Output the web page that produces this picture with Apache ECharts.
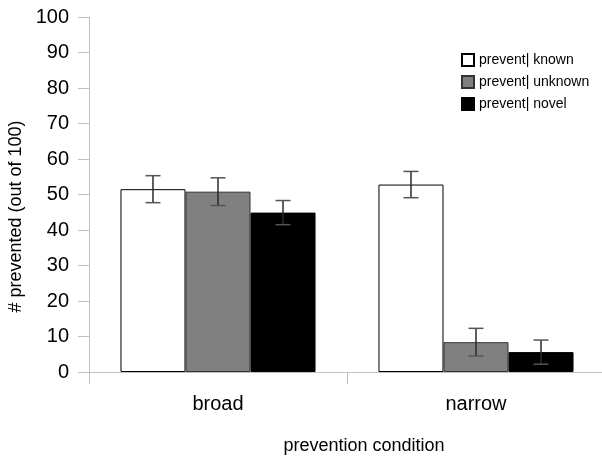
<!DOCTYPE html>
<html>
<head>
<meta charset="utf-8">
<script src="https://cdn.jsdelivr.net/npm/echarts@6/dist/echarts.min.js"></script>
<style>html,body{margin:0;padding:0;background:#fff;}#c{width:602px;height:457px;}</style>
</head>
<body>
<div id="c"></div>
<script>
const categories = ['broad', 'narrow'];
const seriesNames = ['prevent| known', 'prevent| unknown', 'prevent| novel'];
const knownVals = [51.5, 52.8];
const knownErr = [3.8, 3.7];
const unknownVals = [50.8, 8.4];
const unknownErr = [3.9, 3.9];
const novelVals = [44.9, 5.6];
const novelErr = [3.4, 3.4];
const yTicks = {min: 0, max: 100, interval: 10};

const FONT = 'Liberation Sans, Arial, Helvetica, sans-serif';
const BAR_FRAC = 0.252;
const fills = ['#ffffff', '#808080', '#000000'];
const borders = ['#000000', '#333333', '#000000'];
const vals = [knownVals, unknownVals, novelVals];
const errs = [knownErr, unknownErr, novelErr];

const chart = echarts.init(document.getElementById('c'), null, {renderer: 'canvas'});

const barSeries = seriesNames.map((name, k) => ({
  name: name,
  type: 'bar',
  data: vals[k],
  barWidth: (BAR_FRAC * 100) + '%',
  barGap: '0%',
  itemStyle: {color: fills[k], borderColor: borders[k], borderWidth: 1},
  emphasis: {disabled: true},
  z: 2
}));

const errData = [];
for (let k = 0; k < 3; k++) {
  for (let i = 0; i < categories.length; i++) {
    errData.push([i, vals[k][i], errs[k][i], k]);
  }
}

const errSeries = {
  type: 'custom',
  name: 'err',
  data: errData,
  encode: {x: 0, y: 1},
  z: 5,
  silent: true,
  renderItem: function (params, api) {
    const ci = api.value(0), v = api.value(1), e = api.value(2), k = api.value(3);
    const bw = api.size([1, 0])[0] * BAR_FRAC;
    const c = api.coord([ci, v]);
    const x = c[0] + (k - 1) * bw;
    const top = api.coord([ci, v + e])[1];
    const bot = api.coord([ci, v - e])[1];
    const hw = 7.5;
    const st = {stroke: '#2a2a2a', lineWidth: 1.5};
    const cs = {stroke: '#555555', lineWidth: 1.5};
    return {
      type: 'group',
      children: [
        {type: 'line', shape: {x1: x, y1: top, x2: x, y2: bot}, style: st},
        {type: 'line', shape: {x1: x - hw, y1: top, x2: x + hw, y2: top}, style: cs},
        {type: 'line', shape: {x1: x - hw, y1: bot, x2: x + hw, y2: bot}, style: cs}
      ]
    };
  }
};

chart.setOption({
  animation: false,
  backgroundColor: '#ffffff',
  textStyle: {fontFamily: FONT},
  grid: {left: 89, top: 17, width: 516, height: 355, containLabel: false, outerBoundsMode: 'none'},
  legend: {
    data: seriesNames,
    orient: 'vertical',
    left: 461,
    top: 53,
    padding: 0,
    itemWidth: 12,
    itemHeight: 12,
    itemGap: 8,
    icon: 'rect',
    textStyle: {fontFamily: FONT, fontSize: 14, color: '#000'},
    selectedMode: false
  },
  xAxis: {
    type: 'category',
    data: categories,
    name: 'prevention condition',
    nameLocation: 'middle',
    nameGap: 65,
    nameTextStyle: {fontFamily: FONT, fontSize: 18, color: '#000', padding: [0, 0, 0, 34], verticalAlign: 'top'},
    axisLine: {lineStyle: {color: '#c0c0c0', width: 1}},
    axisTick: {show: true, alignWithLabel: false, length: 12, lineStyle: {color: '#c0c0c0'}},
    axisLabel: {fontFamily: FONT, fontSize: 20, color: '#000', margin: 22},
    splitLine: {show: false}
  },
  yAxis: {
    type: 'value',
    min: yTicks.min,
    max: yTicks.max,
    interval: yTicks.interval,
    name: '# prevented (out of 100)',
    nameLocation: 'middle',
    nameRotate: 90,
    nameGap: 62,
    nameTextStyle: {fontFamily: FONT, fontSize: 18, color: '#000', padding: [0, 44, 0, 0]},
    axisLine: {show: true, lineStyle: {color: '#c0c0c0', width: 1}},
    axisTick: {show: true, length: 11, lineStyle: {color: '#c0c0c0'}},
    axisLabel: {fontFamily: FONT, fontSize: 20, color: '#000', margin: 20},
    splitLine: {show: false}
  },
  series: [...barSeries, errSeries]
});
</script>
</body>
</html>
